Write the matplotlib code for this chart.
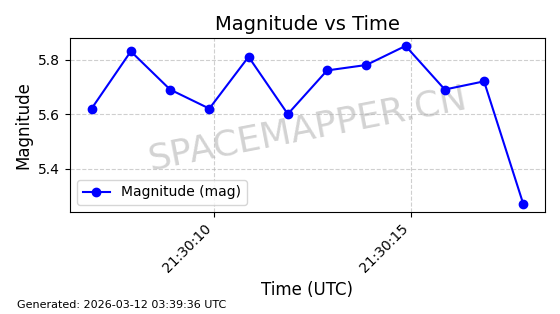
import matplotlib
matplotlib.use("Agg")
import matplotlib.pyplot as plt
import matplotlib.dates as mdates
import pandas as pd

# observation times (UTC) and magnitudes
times = pd.to_datetime([
    "2026-03-11 21:30:06.87", "2026-03-11 21:30:07.87", "2026-03-11 21:30:08.87",
    "2026-03-11 21:30:09.87", "2026-03-11 21:30:10.87", "2026-03-11 21:30:11.87",
    "2026-03-11 21:30:12.87", "2026-03-11 21:30:13.87", "2026-03-11 21:30:14.87",
    "2026-03-11 21:30:15.87", "2026-03-11 21:30:16.87", "2026-03-11 21:30:17.87",
])
magnitudes = [5.62, 5.83, 5.69, 5.62, 5.81, 5.60, 5.76, 5.78, 5.85, 5.69, 5.72, 5.27]
tick_times = pd.to_datetime(["2026-03-11 21:30:10", "2026-03-11 21:30:15"])
y_ticks = [5.4, 5.6, 5.8]

fig = plt.figure(figsize=(5.6, 3.14), dpi=100)
ax = fig.add_axes([0.125, 0.325, 0.848, 0.554])

ax.plot(times, magnitudes, "o-", color="blue", markersize=6, linewidth=1.5,
        label="Magnitude (mag)", zorder=3)
ax.set_title("Magnitude vs Time", fontsize=14)
ax.set_xlabel("Time (UTC)", fontsize=12)
ax.set_ylabel("Magnitude", fontsize=12)
ax.set_xticks(tick_times)
ax.xaxis.set_major_formatter(mdates.DateFormatter("%H:%M:%S"))
plt.setp(ax.get_xticklabels(), rotation=45, ha="right")
ax.set_yticks(y_ticks)
ax.grid(True, linestyle="--", alpha=0.6)
ax.legend(loc="lower left", fontsize=10)

# watermark behind the data line
ax.text(0.5, 0.48, "SPACEMAPPER.CN", transform=ax.transAxes, fontsize=26,
        color="gray", alpha=0.35, rotation=11, ha="center", va="center",
        zorder=1)

fig.text(0.03, 0.02, "Generated: 2026-03-12 03:39:36 UTC", fontsize=8)

fig.savefig("out.png", dpi=100)
